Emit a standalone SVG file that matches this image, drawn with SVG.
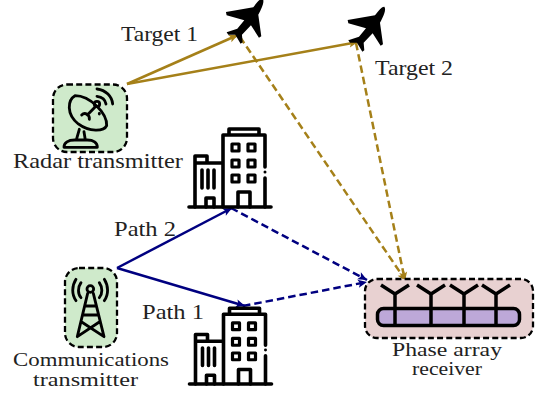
<svg xmlns="http://www.w3.org/2000/svg" xmlns:xlink="http://www.w3.org/1999/xlink" width="537" height="398" viewBox="0 0 537 398">
<style>
text{font-family:"Liberation Serif","Times New Roman",serif;font-size:21px;fill:#222;text-anchor:start}
.tight{font-size:19px}
.box{stroke:#000;stroke-width:2.300;stroke-dasharray:6 3.200}
.gold{fill:none;stroke:#a58019;stroke-width:2.500}
.navy{fill:none;stroke:#000080;stroke-width:2.500}
.dash{stroke-dasharray:7.500 4}
.bld{fill:none;stroke:#000;stroke-width:3.600;stroke-linecap:round;stroke-linejoin:round}
.win{fill:none;stroke:#000;stroke-width:3.200;stroke-linejoin:round}
.ant{fill:none;stroke:#000;stroke-width:3.500}
.ico{fill:none;stroke:#000;stroke-width:8.500;stroke-linecap:round;stroke-linejoin:round}
</style>
<defs>
<marker id="ag" markerUnits="userSpaceOnUse" markerWidth="11" markerHeight="10" refX="10" refY="5" orient="auto"><path d="M1,1 L10,5 L1,9 L3,5 Z" fill="#a58019"/></marker>
<marker id="an" markerUnits="userSpaceOnUse" markerWidth="11" markerHeight="10" refX="10" refY="5" orient="auto"><path d="M1,1 L10,5 L1,9 L3,5 Z" fill="#000080"/></marker>
<path id="plane" fill="#000" d="M493,20 C487,19 478,28 465,46 L383,60 L385,70 L438,85 L417,110 L385,121 L390,128 L411,128 L427,155 L433,151 L431,128 L458,100 L482,137 L489,133 L480,68 C490,50 500,28 493,20 Z"/>
<g id="building">
<path class="bld" d="M189,207 H271"/>
<path class="bld" d="M195,207 V156 H207 V163 M195,163 H223 M223,207 V135 H265 V167 M265,178 V207 M229,135 V129 H259 V135 M202,170 V188 M208,170 V188 M214,170 V188 M206,207 V198 H214 V207 M238,207 V192 H250 V207"/>
<circle cx="265" cy="172" r="1.500" fill="#000"/>
<path class="win" d="M232,144 h7 v7 h-7 z M248,144 h7 v7 h-7 z M232,160 h7 v7 h-7 z M248,160 h7 v7 h-7 z M232,175 h7 v7 h-7 z M248,175 h7 v7 h-7 z"/>
</g>
</defs>

<g id="connectors">
<path class="gold" marker-end="url(#ag)" d="M127,84 L238,35"/>
<path class="gold" marker-end="url(#ag)" d="M127,84 L358,42"/>
<path class="gold dash" marker-end="url(#ag)" d="M240,37 L406,281"/>
<path class="gold dash" marker-end="url(#ag)" d="M356,43 L405,281"/>
<path class="navy" marker-end="url(#an)" d="M117,268 L232,208"/>
<path class="navy" marker-end="url(#an)" d="M117,268 L245,306"/>
<path class="navy dash" marker-end="url(#an)" d="M231,208 L367,280"/>
<path class="navy dash" marker-end="url(#an)" d="M243,306 L367,282"/>
</g>

<g id="target1"><use href="#plane" transform="translate(98.300,-8) scale(0.3333)"/><text x="121" y="41" textLength="77" lengthAdjust="spacingAndGlyphs">Target 1</text></g>
<g id="target2"><use href="#plane" transform="translate(220,0) scale(0.3333)"/><text x="375" y="75" textLength="78" lengthAdjust="spacingAndGlyphs">Target 2</text></g>

<g id="radar-transmitter">
<rect class="box" x="53" y="84.500" width="74" height="67.500" rx="14" fill="#cfeacb"/>
<g transform="scale(0.3333)" class="ico">
<path d="M225,287 C203,300 198,342 235,372 C268,397 312,395 320,377 C322,340 270,287 225,287 Z"/>
<path d="M238,388 L229,420 M252,395 L256,420 M192,442 H292 C292,428 280,420 262,420 H224 C205,420 192,428 192,442 Z"/>
<path d="M245,345 C255,335 270,345 268,358 M262,345 L286,320 M298,340 L298,342"/>
<circle cx="291" cy="312" r="8"/>
<path d="M291,267 C318,270 336,290 338,312 M291,289 C305,291 316,300 318,312"/>
</g>
<text x="13" y="168" textLength="170" lengthAdjust="spacingAndGlyphs">Radar transmitter</text>
</g>

<g id="communications-transmitter">
<rect class="box" x="65" y="268" width="52" height="79" rx="14" fill="#cfeacb"/>
<g transform="translate(0,200) scale(0.3333)" class="ico">
<circle cx="271" cy="267" r="10"/>
<path d="M263,280 L232,410 M280,280 L312,410 M256,318 H287 M250,345 H294 M245,366 L312,410 M298,366 L232,410"/>
<path d="M243,248 C233,262 233,282 243,293 M228,238 C215,258 215,285 228,302 M298,248 C308,262 308,282 298,293 M313,238 C326,258 326,285 313,302"/>
</g>
<text class="tight" x="13" y="366" textLength="156" lengthAdjust="spacingAndGlyphs">Communications</text>
<text class="tight" x="33" y="386" textLength="105" lengthAdjust="spacingAndGlyphs">transmitter</text>
</g>

<g id="building-1"><use href="#building"/></g>
<g id="building-2"><use href="#building" transform="translate(0.500,183.200) scale(1,0.97)"/></g>

<g id="path-labels">
<text x="114" y="236" textLength="62" lengthAdjust="spacingAndGlyphs">Path 2</text>
<text x="142" y="319" textLength="62" lengthAdjust="spacingAndGlyphs">Path 1</text>
</g>

<g id="phase-array-receiver">
<rect class="box" x="365" y="279" width="168" height="59" rx="12" fill="#e8d1d1"/>
<rect x="377.500" y="308.500" width="142" height="17" rx="6" fill="#bda8d8" stroke="#000" stroke-width="3.500"/>
<path class="ant" d="M395,326 V294 L381,285 M395,294 L409,285 M431,326 V294 L417,285 M431,294 L445,285 M464,326 V294 L450,285 M464,294 L478,285 M496,326 V294 L482,285 M496,294 L510,285"/>
<text class="tight" x="392" y="356" textLength="110" lengthAdjust="spacingAndGlyphs">Phase array</text>
<text class="tight" x="412" y="375" textLength="70" lengthAdjust="spacingAndGlyphs">receiver</text>
</g>
</svg>
